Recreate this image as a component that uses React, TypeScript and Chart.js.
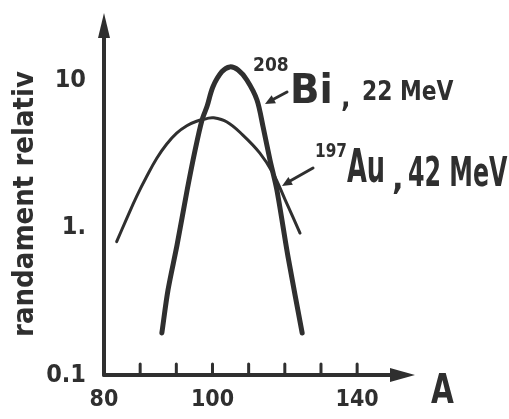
import React, { useEffect, useRef } from "react";
import { Chart, registerables } from "chart.js";

Chart.register(...registerables);

// ---- data ----
const biMassNumbers = [86.0, 87.7, 90.2, 93.0, 95.2, 97.1, 98.5, 100.1, 102.6, 104.8, 107.1, 109.5, 112.3, 114.0, 115.9, 117.8, 120.9, 124.8];
const biYield = [0.193, 0.378, 0.764, 1.81, 3.38, 5.4, 6.7, 9.06, 11.5, 12.4, 11.8, 10.1, 7.39, 4.84, 2.89, 1.81, 0.633, 0.193];

const auMassNumbers = [73.5, 76.3, 79.0, 81.8, 84.6, 87.3, 90.1, 92.9, 95.6, 98.4, 100.2, 104.0, 108.4, 113.1, 116.7, 120.1, 124.2];
const auYield = [0.805, 1.16, 1.63, 2.23, 2.97, 3.7, 4.4, 4.94, 5.3, 5.52, 5.6, 5.24, 4.27, 3.22, 2.36, 1.55, 0.922];

const xMin = 70;
const xMax = 156;
const yMin = 0.1;
const yMax = 27.5;

const xTickValues = [70, 100, 140];
const xTickLabels = ["80", "100", "140"];
const xTickMarks = [80, 90, 100, 110, 120, 130, 140];
const yTickValues = [0.1, 1, 10];
const yTickLabels = ["0.1", "1.", "10"];

const yTitle = "randament relativ";
const xTitle = "A";
const biLabel = { mass: "208", element: "Bi", rest: "22 MeV" };
const auLabel = { mass: "197", element: "Au", rest: "42 MeV" };

const INK = "#2f2f2f";
const FONT = '"DejaVu Sans Condensed", "DejaVu Sans", sans-serif';

function arrowHead(ctx: CanvasRenderingContext2D, fx: number, fy: number, tx: number, ty: number, len: number, half: number) {
  const a = Math.atan2(ty - fy, tx - fx);
  const bx = tx - Math.cos(a) * len;
  const by = ty - Math.sin(a) * len;
  ctx.beginPath();
  ctx.moveTo(tx, ty);
  ctx.lineTo(bx + Math.sin(a) * half, by - Math.cos(a) * half);
  ctx.lineTo(bx - Math.sin(a) * half, by + Math.cos(a) * half);
  ctx.closePath();
  ctx.fill();
}

function text(ctx: CanvasRenderingContext2D, s: string, x: number, y: number, size: number, sx: number) {
  ctx.save();
  ctx.translate(x, y);
  ctx.scale(sx, 1);
  ctx.font = `bold ${size}px ${FONT}`;
  ctx.fillText(s, 0, 0);
  ctx.restore();
}

const inkPlugin = {
  id: "ink",
  afterDraw(chart: any) {
    const { ctx, chartArea } = chart;
    const { left, right, top, bottom } = chartArea;
    const xs = chart.scales.x;
    ctx.save();
    ctx.strokeStyle = INK;
    ctx.fillStyle = INK;
    ctx.lineCap = "round";

    // y axis with arrow
    ctx.lineWidth = 4;
    ctx.beginPath();
    ctx.moveTo(left, bottom);
    ctx.lineTo(left, top + 12);
    ctx.stroke();
    arrowHead(ctx, left, bottom, left, top - 3, 25, 6);

    // x axis with arrow
    ctx.beginPath();
    ctx.moveTo(left, bottom);
    ctx.lineTo(right - 12, bottom);
    ctx.stroke();
    arrowHead(ctx, left, bottom, right, bottom, 25, 7);

    // small tick marks above the x axis
    ctx.lineWidth = 3;
    for (const v of xTickMarks) {
      const px = xs.getPixelForValue(v);
      ctx.beginPath();
      ctx.moveTo(px, bottom);
      ctx.lineTo(px, bottom - 11);
      ctx.stroke();
    }

    // y title
    ctx.save();
    ctx.translate(25, 204);
    ctx.rotate(-Math.PI / 2);
    ctx.font = `bold 29px ${FONT}`;
    ctx.textAlign = "center";
    ctx.textBaseline = "middle";
    ctx.fillText(yTitle, 0, 0);
    ctx.restore();

    ctx.textAlign = "left";
    ctx.textBaseline = "alphabetic";

    // x title
    text(ctx, xTitle, 431, 403, 41, 0.8);

    // curve annotations
    text(ctx, biLabel.mass, 253, 71, 20, 0.95);
    text(ctx, biLabel.element, 290, 103, 41, 1.05);
    text(ctx, ",", 341, 107, 28, 1);
    text(ctx, biLabel.rest, 362, 100, 27, 0.9);

    text(ctx, auLabel.mass, 315, 157, 20, 0.85);
    text(ctx, auLabel.element, 347, 182, 46, 0.62);
    text(ctx, ",", 392, 189, 34, 1);
    text(ctx, auLabel.rest, 408, 186, 40, 0.66);

    // pointer arrows
    ctx.lineWidth = 3;
    ctx.beginPath();
    ctx.moveTo(287, 92);
    ctx.lineTo(272, 100);
    ctx.stroke();
    arrowHead(ctx, 287, 92, 265, 104, 10, 4.5);
    ctx.beginPath();
    ctx.moveTo(313, 168);
    ctx.lineTo(290, 181);
    ctx.stroke();
    arrowHead(ctx, 313, 168, 282, 186, 10, 4.5);

    ctx.restore();
  },
};

export default function App() {
  const ref = useRef<HTMLCanvasElement | null>(null);

  useEffect(() => {
    const canvas = ref.current;
    if (!canvas) return;
    const chart = new Chart(canvas, {
      type: "line",
      data: {
        datasets: [
          {
            label: "208Bi, 22 MeV",
            data: biMassNumbers.map((x, i) => ({ x, y: biYield[i] })),
            borderColor: INK,
            borderWidth: 5,
            pointRadius: 0,
            tension: 0.3,
            borderCapStyle: "round",
            borderJoinStyle: "round",
            fill: false,
          },
          {
            label: "197Au, 42 MeV",
            data: auMassNumbers.map((x, i) => ({ x, y: auYield[i] })),
            borderColor: INK,
            borderWidth: 3,
            pointRadius: 0,
            tension: 0.4,
            borderCapStyle: "round",
            borderJoinStyle: "round",
            fill: false,
          },
        ],
      },
      options: {
        responsive: false,
        animation: false,
        events: [],
        layout: { padding: { left: 0, top: 16, right: 94, bottom: 0 } },
        plugins: { legend: { display: false }, tooltip: { enabled: false } },
        scales: {
          x: {
            type: "linear",
            min: xMin,
            max: xMax,
            border: { display: false },
            grid: { color: "transparent", drawTicks: true, tickLength: 14 },
            afterBuildTicks: (scale: any) => {
              scale.ticks = xTickValues.map((value) => ({ value }));
            },
            afterFit: (scale: any) => {
              scale.height = 44;
            },
            ticks: {
              padding: 0,
              maxRotation: 0,
              autoSkip: false,
              color: INK,
              font: { family: FONT, size: 23, weight: "bold", lineHeight: 1 },
              callback: (_v: any, i: number) => xTickLabels[i],
            },
          },
          y: {
            type: "logarithmic",
            min: yMin,
            max: yMax,
            border: { display: false },
            grid: { color: "transparent", drawTicks: true, tickLength: 18 },
            afterBuildTicks: (scale: any) => {
              scale.ticks = yTickValues.map((value) => ({ value }));
            },
            afterFit: (scale: any) => {
              scale.width = 104;
            },
            ticks: {
              padding: 0,
              autoSkip: false,
              color: INK,
              font: { family: FONT, size: 25, weight: "bold", lineHeight: 1 },
              callback: (_v: any, i: number) => yTickLabels[i],
            },
          },
        },
      },
      plugins: [inkPlugin],
    } as any);
    return () => chart.destroy();
  }, []);

  return (
    <div style={{ position: "fixed", left: 0, top: 0, width: 509, height: 419, background: "#fff" }}>
      <canvas ref={ref} width={509} height={419} style={{ display: "block", width: 509, height: 419 }} />
    </div>
  );
}
